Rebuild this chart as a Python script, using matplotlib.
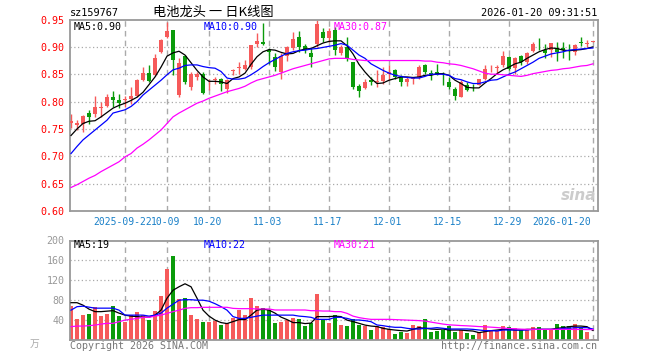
import matplotlib
matplotlib.use("Agg")
import matplotlib.pyplot as plt
import numpy as np

# daily candles, oldest first (index 0 .. 87)
opens = [0.760, 0.758, 0.759, 0.780, 0.777, 0.788, 0.791, 0.808, 0.802, 0.802,
         0.805, 0.811, 0.839, 0.852, 0.848, 0.891, 0.918, 0.931, 0.812, 0.883,
         0.826, 0.845, 0.851, 0.835, 0.839, 0.842, 0.823, 0.855, 0.862, 0.860,
         0.863, 0.906, 0.909, 0.894, 0.882, 0.854, 0.883, 0.898, 0.918, 0.901,
         0.889, 0.905, 0.928, 0.917, 0.931, 0.888, 0.900, 0.872, 0.829, 0.825,
         0.839, 0.836, 0.837, 0.851, 0.857, 0.845, 0.836, 0.842, 0.845, 0.866,
         0.852, 0.854, 0.845, 0.836, 0.823, 0.809, 0.830, 0.827, 0.831, 0.842,
         0.859, 0.861, 0.866, 0.882, 0.862, 0.883, 0.872, 0.893, 0.904, 0.894,
         0.894, 0.897, 0.897, 0.895, 0.891, 0.908, 0.905, 0.909]
closes = [0.765, 0.760, 0.774, 0.771, 0.790, 0.790, 0.809, 0.802, 0.798, 0.805,
          0.811, 0.840, 0.852, 0.837, 0.879, 0.912, 0.929, 0.876, 0.870, 0.836,
          0.851, 0.850, 0.815, 0.836, 0.842, 0.833, 0.839, 0.857, 0.864, 0.866,
          0.903, 0.910, 0.905, 0.891, 0.863, 0.883, 0.899, 0.915, 0.899, 0.894,
          0.882, 0.942, 0.917, 0.929, 0.894, 0.899, 0.879, 0.826, 0.820, 0.836,
          0.836, 0.838, 0.848, 0.854, 0.845, 0.836, 0.842, 0.843, 0.863, 0.854,
          0.850, 0.848, 0.844, 0.826, 0.811, 0.836, 0.822, 0.826, 0.842, 0.860,
          0.860, 0.862, 0.883, 0.860, 0.880, 0.872, 0.889, 0.905, 0.903, 0.889,
          0.907, 0.891, 0.895, 0.893, 0.903, 0.907, 0.906, 0.910]
highs = [0.777, 0.766, 0.776, 0.785, 0.811, 0.799, 0.814, 0.819, 0.813, 0.811,
         0.826, 0.842, 0.864, 0.866, 0.887, 0.915, 0.946, 0.931, 0.880, 0.885,
         0.854, 0.854, 0.854, 0.842, 0.845, 0.843, 0.842, 0.860, 0.872, 0.876,
         0.903, 0.925, 0.943, 0.897, 0.889, 0.889, 0.901, 0.928, 0.929, 0.906,
         0.897, 0.950, 0.934, 0.934, 0.937, 0.903, 0.918, 0.872, 0.833, 0.842,
         0.844, 0.857, 0.863, 0.866, 0.860, 0.848, 0.845, 0.845, 0.866, 0.869,
         0.857, 0.868, 0.854, 0.845, 0.826, 0.839, 0.836, 0.833, 0.842, 0.866,
         0.866, 0.866, 0.893, 0.883, 0.881, 0.885, 0.891, 0.909, 0.917, 0.906,
         0.907, 0.909, 0.909, 0.906, 0.906, 0.918, 0.913, 0.911]
lows = [0.751, 0.748, 0.744, 0.759, 0.771, 0.771, 0.790, 0.790, 0.788, 0.790,
        0.796, 0.808, 0.837, 0.836, 0.846, 0.888, 0.917, 0.849, 0.808, 0.833,
        0.822, 0.839, 0.813, 0.822, 0.833, 0.820, 0.815, 0.848, 0.851, 0.857,
        0.860, 0.900, 0.903, 0.869, 0.856, 0.842, 0.875, 0.894, 0.891, 0.888,
        0.863, 0.900, 0.909, 0.909, 0.885, 0.885, 0.875, 0.823, 0.808, 0.823,
        0.830, 0.827, 0.833, 0.839, 0.842, 0.828, 0.828, 0.833, 0.842, 0.851,
        0.840, 0.848, 0.830, 0.823, 0.803, 0.808, 0.819, 0.820, 0.830, 0.839,
        0.854, 0.851, 0.864, 0.858, 0.851, 0.866, 0.869, 0.891, 0.894, 0.880,
        0.882, 0.875, 0.880, 0.876, 0.885, 0.901, 0.899, 0.908]

ma5 = [0.738, 0.750, 0.760, 0.764, 0.765, 0.772, 0.780, 0.788, 0.793, 0.797,
       0.802, 0.808, 0.817, 0.831, 0.845, 0.863, 0.883, 0.889, 0.892, 0.885,
       0.871, 0.857, 0.845, 0.837, 0.837, 0.836, 0.833, 0.842, 0.845, 0.852,
       0.868, 0.882, 0.891, 0.895, 0.894, 0.890, 0.887, 0.888, 0.893, 0.896,
       0.897, 0.902, 0.907, 0.910, 0.911, 0.911, 0.902, 0.887, 0.868, 0.854,
       0.842, 0.833, 0.834, 0.839, 0.842, 0.845, 0.845, 0.844, 0.845, 0.848,
       0.848, 0.851, 0.851, 0.848, 0.839, 0.833, 0.826, 0.825, 0.825, 0.834,
       0.842, 0.851, 0.858, 0.863, 0.869, 0.872, 0.879, 0.885, 0.891, 0.895,
       0.898, 0.897, 0.894, 0.893, 0.894, 0.895, 0.897, 0.900]
ma10 = [0.705, 0.718, 0.730, 0.739, 0.748, 0.757, 0.766, 0.779, 0.782, 0.785,
        0.791, 0.800, 0.812, 0.821, 0.830, 0.839, 0.849, 0.858, 0.861, 0.866,
        0.867, 0.867, 0.864, 0.862, 0.861, 0.855, 0.843, 0.841, 0.841, 0.843,
        0.849, 0.856, 0.864, 0.871, 0.877, 0.883, 0.888, 0.891, 0.893, 0.894,
        0.896, 0.897, 0.899, 0.901, 0.903, 0.906, 0.903, 0.894, 0.885, 0.879,
        0.869, 0.863, 0.857, 0.852, 0.848, 0.846, 0.844, 0.843, 0.843, 0.846,
        0.850, 0.850, 0.850, 0.848, 0.842, 0.840, 0.836, 0.833, 0.833, 0.836,
        0.839, 0.840, 0.845, 0.850, 0.854, 0.860, 0.866, 0.872, 0.879, 0.883,
        0.887, 0.889, 0.891, 0.894, 0.895, 0.896, 0.897, 0.898]
ma30 = [0.643, 0.648, 0.654, 0.660, 0.665, 0.672, 0.678, 0.684, 0.690, 0.699,
        0.705, 0.715, 0.722, 0.730, 0.739, 0.748, 0.760, 0.772, 0.779, 0.785,
        0.791, 0.797, 0.801, 0.806, 0.810, 0.814, 0.818, 0.821, 0.824, 0.828,
        0.834, 0.839, 0.842, 0.845, 0.848, 0.852, 0.856, 0.860, 0.863, 0.866,
        0.869, 0.872, 0.875, 0.878, 0.879, 0.879, 0.879, 0.877, 0.876, 0.875,
        0.875, 0.875, 0.875, 0.875, 0.875, 0.875, 0.875, 0.875, 0.875, 0.874,
        0.874, 0.872, 0.871, 0.869, 0.868, 0.866, 0.863, 0.860, 0.856, 0.852,
        0.850, 0.850, 0.849, 0.848, 0.847, 0.846, 0.848, 0.851, 0.853, 0.855,
        0.857, 0.858, 0.860, 0.861, 0.863, 0.865, 0.866, 0.869]

# volume (10k)
volumes = [68, 42, 50, 52, 66, 48, 52, 68, 48, 37,
           50, 57, 50, 40, 59, 88, 143, 169, 82, 84,
           50, 42, 37, 37, 39, 30, 34, 44, 60, 50,
           84, 68, 64, 60, 34, 37, 40, 44, 42, 29,
           34, 93, 40, 34, 50, 30, 29, 42, 30, 28,
           20, 29, 26, 22, 12, 17, 15, 30, 28, 42,
           17, 19, 21, 28, 17, 20, 15, 10, 17, 30,
           19, 19, 28, 27, 24, 20, 20, 26, 26, 21,
           22, 32, 28, 28, 32, 27, 17, 2]
vol_ma5 = [75, 75, 70, 62, 57, 57, 58, 59, 54, 50,
           48, 47, 46, 46, 50, 60, 84, 100, 107, 113,
           107, 84, 60, 48, 40, 35, 33, 37, 41, 41,
           50, 60, 62, 60, 54, 46, 41, 35, 35, 33,
           34, 47, 47, 47, 48, 47, 40, 37, 33.5, 30,
           28, 27, 23.5, 21.4, 20, 18.8, 18, 21.4, 24.8, 23.5,
           22, 21.4, 22, 20, 20, 20, 18.8, 18, 14.7, 16.8,
           18.8, 20, 21.4, 21.4, 20, 20, 21.4, 21.4, 21.4, 21.4,
           21.4, 23.5, 24.8, 26.8, 28, 28, 26.8, 19]
vol_ma10 = [60, 67, 68, 66, 64, 64, 64, 64, 60, 50,
            50, 50, 50, 48, 50, 54, 64, 72, 80, 81,
            81, 80, 80, 78, 73, 67, 60, 47, 43.5, 43.5,
            45.6, 48, 50, 50, 50, 50, 50, 50, 48, 47,
            45.6, 41.5, 41.5, 41.5, 45.6, 45.6, 43.5, 40.2, 40.2, 38.9,
            36.8, 30.2, 28.8, 26.8, 25.5, 25.5, 23.5, 22.1, 22.1, 23.5,
            23.5, 24.8, 23.5, 22.1, 22.1, 22.1, 22.1, 21.4, 20.1, 18.8,
            18.8, 18.1, 20.1, 20.1, 20.1, 20.1, 20.1, 21.4, 21.4, 21.4,
            21.4, 21.4, 23.5, 23.5, 24.8, 24.8, 24.8, 22]
vol_ma30 = [26.8, 28, 28, 28.8, 30, 32, 33.5, 33.5, 36.8, 40,
            41.5, 43.5, 45.6, 45.6, 48, 50, 53.6, 57, 60, 63.6,
            65, 65, 65.7, 65.7, 65.7, 65.7, 65.7, 63.6, 63, 63,
            63, 62.3, 62.3, 62.3, 60.3, 60.3, 60.3, 60.3, 60.3, 60.3,
            58.9, 58.9, 58.2, 58.2, 57, 57, 53.6, 48, 45, 43,
            41.5, 41.5, 41.5, 41.5, 41, 40.5, 40, 39.5, 39, 38,
            36, 34, 32, 30.5, 29.8, 29, 28.5, 27.8, 27, 26.5,
            25.8, 25, 24, 23.2, 22.5, 21.8, 21.4, 21.4, 21.4, 21.4,
            21.4, 21.4, 21.4, 21.4, 21.2, 21.2, 21, 21]

tick_idx = [9, 16, 23, 33, 43, 53, 63, 73, 87]
tick_labels = ["2025-09-22", "10-09", "10-20", "11-03", "11-17",
               "12-01", "12-15", "12-29", "2026-01-20"]
price_ticks = [0.60, 0.65, 0.70, 0.75, 0.80, 0.85, 0.90, 0.95]
vol_ticks = [40, 80, 120, 160, 200]

RED = "#f65a5a"
GREEN = "#0b9b0b"
GRID = "#aaaaaa"
FRAME = "#999999"
MONO = "DejaVu Sans Mono"

W, H = 660, 360
fig = plt.figure(figsize=(W / 100, H / 100), dpi=100)


def px_axes(left, top, right, bottom):
    return fig.add_axes([left / W, 1 - bottom / H, (right - left) / W, (bottom - top) / H])


ax = px_axes(70, 19.5, 598, 211)
axv = px_axes(70, 240.5, 598, 340)

x = np.arange(len(closes))
o = np.array(opens)
c = np.array(closes)
colors = np.where(c >= o, RED, GREEN)

# grid
for a in (ax, axv):
    for t in tick_idx:
        a.axvline(t, color=GRID, lw=1, ls=(0, (4, 3)), zorder=0)
    for s in a.spines.values():
        s.set_color(FRAME)
        s.set_linewidth(1.3)
    a.set_xlim(-0.17, 87.83)
    a.set_xticks([])
    a.tick_params(length=0)
for p in price_ticks[1:-1]:
    ax.axhline(p, color=GRID, lw=0.9, ls=(0, (1, 2)), zorder=0)
for v in vol_ticks[:-1]:
    axv.axhline(v, color=GRID, lw=0.9, ls=(0, (1, 2)), zorder=0)

# candles
ax.vlines(x, lows, highs, colors=colors, lw=1, zorder=2)
ax.bar(x, np.maximum(np.abs(c - o), 0.0013), bottom=np.minimum(o, c),
       width=0.8, color=colors, lw=0, zorder=3)
ax.plot(x, ma5, color="black", lw=0.9, zorder=4)
ax.plot(x, ma10, color="#0000ff", lw=0.9, zorder=4)
ax.plot(x, ma30, color="#ff00ff", lw=0.9, zorder=4)
ax.set_ylim(0.60, 0.95)
ax.set_yticks(price_ticks)
ax.set_yticklabels([f"{p:.2f}" for p in price_ticks], color="#ff0000",
                   fontfamily=MONO, fontsize=7.2)
ax.tick_params(axis="y", pad=4)

# volume
axv.bar(x, volumes, width=0.82, color=colors, lw=0, zorder=2)
axv.plot(x, vol_ma5, color="black", lw=0.9, zorder=4)
axv.plot(x, vol_ma10, color="#0000ff", lw=0.9, zorder=4)
axv.plot(x, vol_ma30, color="#ff00ff", lw=0.9, zorder=4)
axv.set_ylim(0, 200)
axv.set_yticks(vol_ticks)
axv.set_yticklabels([str(v) for v in vol_ticks], color="#999999",
                    fontfamily=MONO, fontsize=7.2)
axv.tick_params(axis="y", pad=4)

# date labels (first nudged left, last kept inside the frame)
for k, (t, lab) in enumerate(zip(tick_idx, tick_labels)):
    if k == len(tick_idx) - 1:
        xt, ha = t - 0.3, "right"
    elif k == 0:
        xt, ha = t - 0.4, "center"
    else:
        xt, ha = t - 0.25, "center"
    ax.text(xt, -0.03, lab, transform=ax.get_xaxis_transform(), ha=ha, va="top",
            color="#1a80c8", fontfamily=MONO, fontsize=7.0)

# legends inside panels
leg = dict(fontfamily=MONO, fontsize=7.2, va="center", transform=fig.transFigure)
for yy, labels in ((27, ("MA5:0.90", "MA10:0.90", "MA30:0.87")),
                   (245, ("MA5:19", "MA10:22", "MA30:21"))):
    fig.text(74 / W, 1 - yy / H, labels[0], color="black", **leg)
    fig.text(204 / W, 1 - yy / H, labels[1], color="#0000ff", **leg)
    fig.text(334 / W, 1 - yy / H, labels[2], color="#ff00ff", **leg)

# header / footer
fig.text(70 / W, 1 - 13 / H, "sz159767", fontfamily=MONO, fontsize=7.4, va="center")
fig.text(213 / W, 1 - 12 / H, "电池龙头 一 日K线图", fontfamily=["Noto Sans CJK SC", "DejaVu Sans"],
         fontsize=9.5, ha="center", va="center")
fig.text(597 / W, 1 - 13 / H, "2026-01-20 09:31:51", fontfamily=MONO, fontsize=7.4,
         ha="right", va="center")
fig.text(70 / W, 1 - 346 / H, "Copyright 2026 SINA.COM", color="#777777",
         fontfamily=MONO, fontsize=7.2, va="center")
fig.text(597 / W, 1 - 346 / H, "http://finance.sina.com.cn", color="#777777",
         fontfamily=MONO, fontsize=7.2, ha="right", va="center")
fig.text(30 / W, 1 - 344 / H, "万", color="#aaaaaa",
         fontfamily=["Noto Sans CJK SC", "DejaVu Sans"], fontsize=7, va="center")
fig.text(596 / W, 1 - 196 / H, "sina", color="#cccccc", fontsize=11,
         fontweight="bold", style="italic", ha="right", va="center")

fig.savefig("out.png", dpi=100)
